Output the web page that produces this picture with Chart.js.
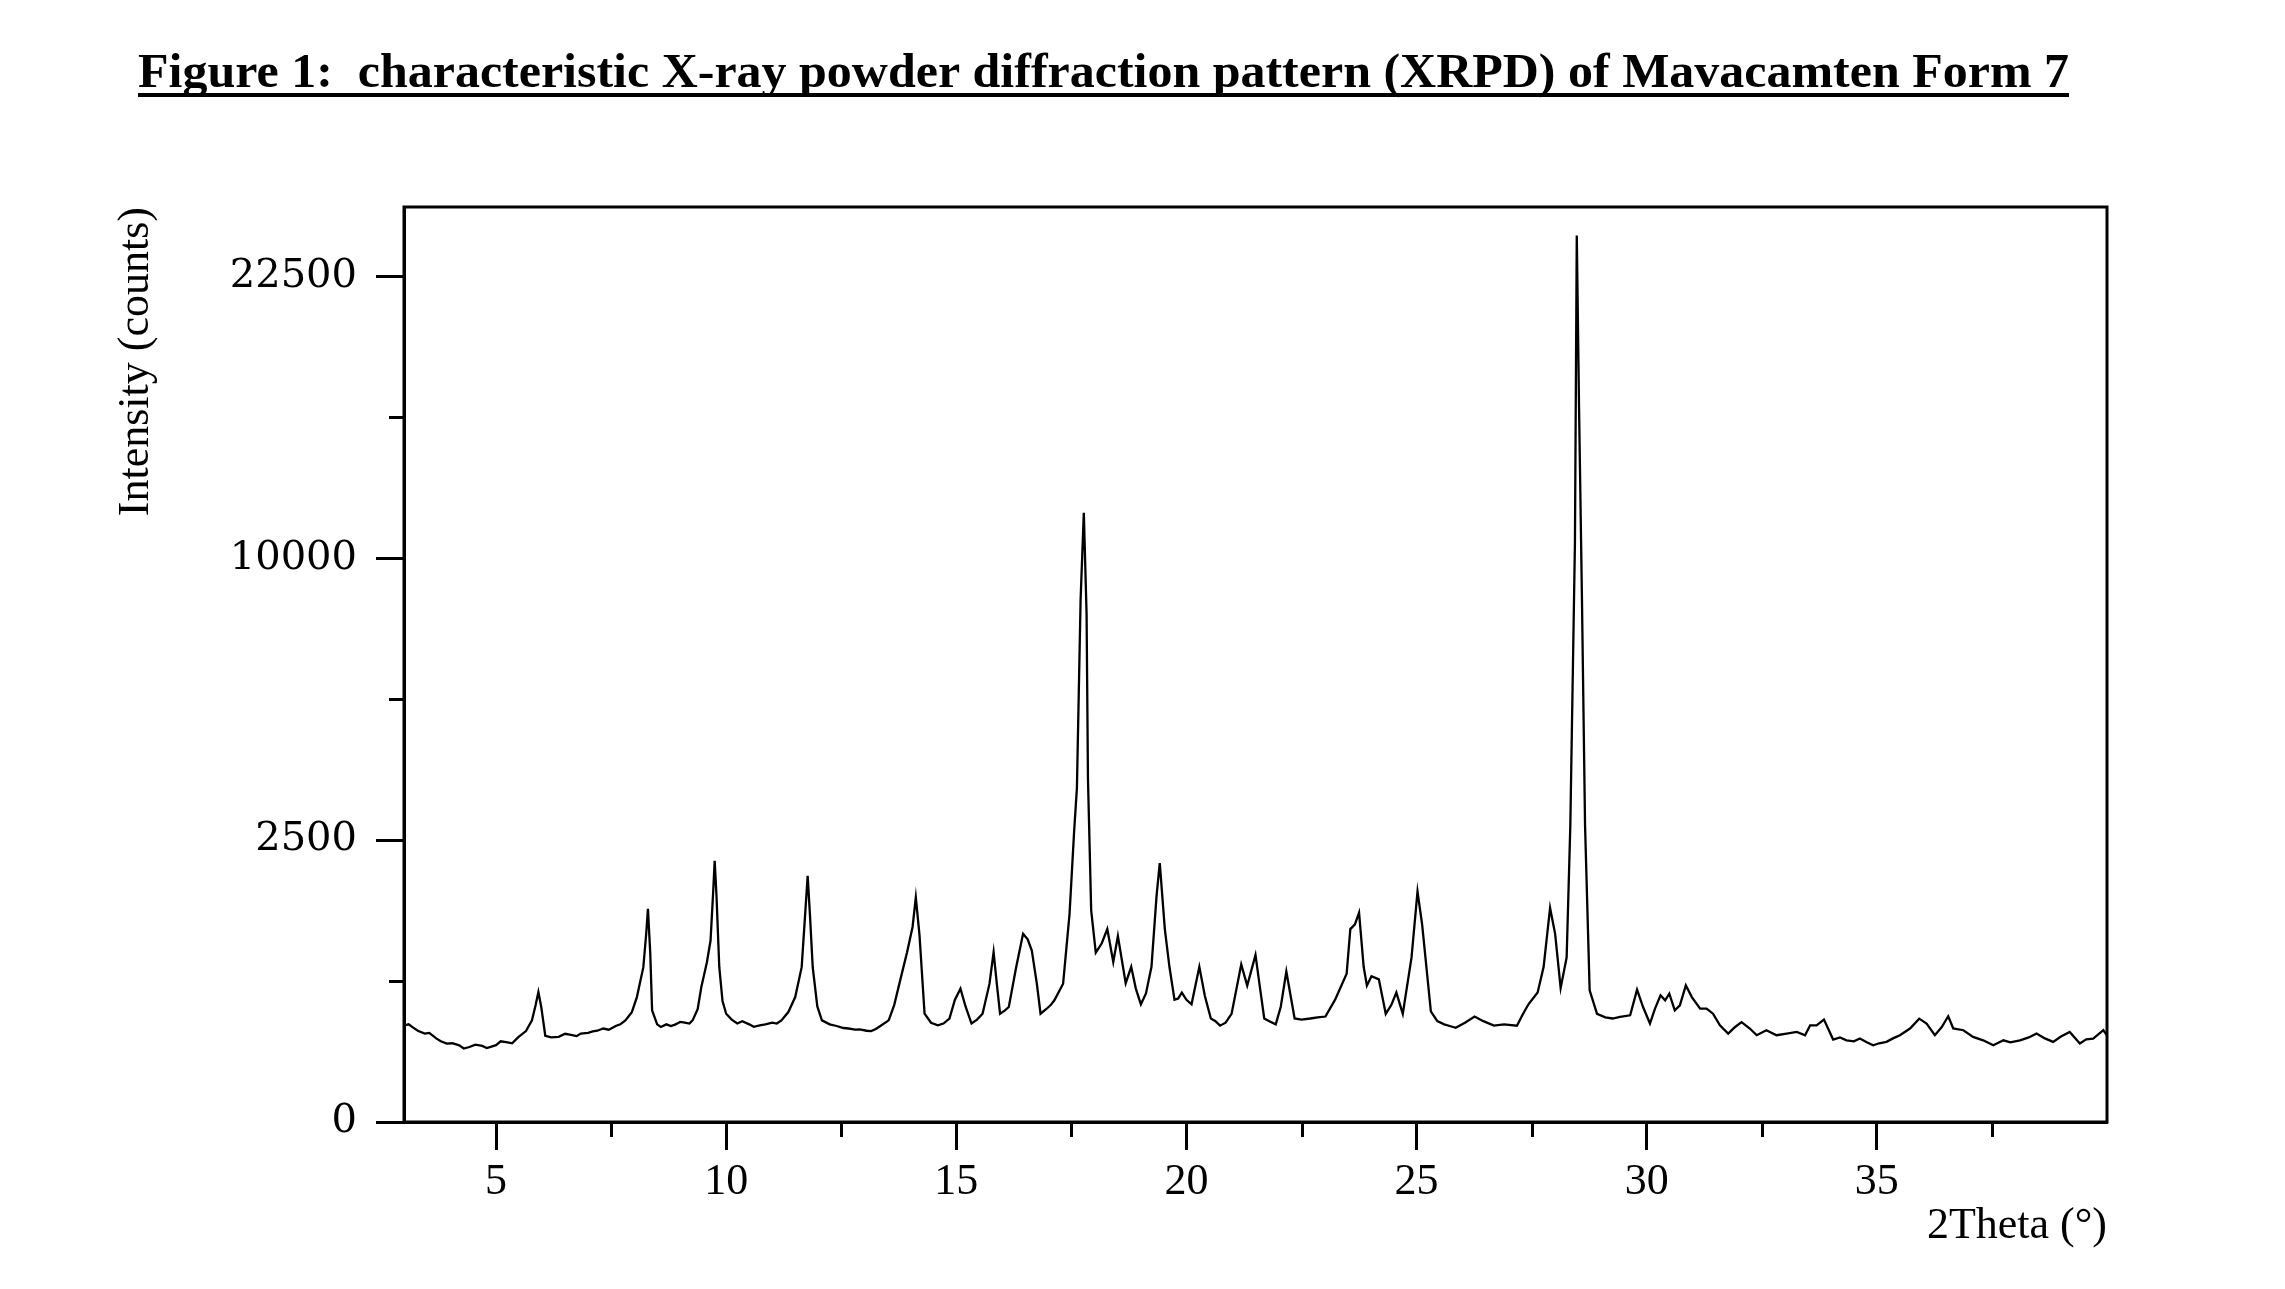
<!DOCTYPE html>
<html>
<head>
<meta charset="utf-8">
<script src="https://cdn.jsdelivr.net/npm/chart.js@4/dist/chart.umd.min.js"></script>
<style>
  html, body { margin: 0; padding: 0; background: #fff; }
  #wrap { width: 2285px; height: 1289px; }
</style>
</head>
<body>
<div id="wrap"><canvas id="chart" width="2285" height="1289"></canvas></div>
<script>
const chartTitle = 'Figure 1:  characteristic X-ray powder diffraction pattern (XRPD) of Mavacamten Form 7';

// 2Theta (deg) and intensity (counts)
const twoTheta = [
  3.01, 3.1, 3.2, 3.3, 3.45, 3.55, 3.7, 3.8, 3.93, 4.05, 4.2, 4.3, 4.42, 4.55, 4.7, 4.8, 5.0, 5.1, 5.25, 5.35,
  5.49, 5.65, 5.78, 5.86, 5.92, 5.98, 6.07, 6.2, 6.36, 6.5, 6.6, 6.75, 6.84, 7.0, 7.1, 7.2, 7.33, 7.45, 7.6, 7.7,
  7.81, 7.95, 8.06, 8.2, 8.26, 8.30, 8.35, 8.39, 8.5, 8.58, 8.7, 8.8, 8.9, 9.0, 9.1, 9.2, 9.27, 9.38, 9.46, 9.58,
  9.66, 9.72, 9.75, 9.79, 9.85, 9.92, 10.0, 10.12, 10.24, 10.35, 10.5, 10.6, 10.73, 10.85, 11.0, 11.1, 11.2, 11.35,
  11.5, 11.64, 11.72, 11.77, 11.82, 11.88, 11.98, 12.08, 12.25, 12.4, 12.55, 12.66, 12.8, 12.9, 13.05, 13.15, 13.25,
  13.35, 13.53, 13.65, 13.78, 13.93, 14.05, 14.12, 14.2, 14.31, 14.45, 14.6, 14.72, 14.85, 14.97, 15.09, 15.2,
  15.33, 15.45, 15.57, 15.72, 15.81, 15.88, 15.95, 16.05, 16.14, 16.3, 16.45, 16.55, 16.64, 16.75, 16.83, 16.95,
  17.05, 17.13, 17.32, 17.46, 17.56, 17.62, 17.70, 17.77, 17.83, 17.86, 17.93, 18.03, 18.16, 18.28, 18.41, 18.51,
  18.68, 18.80, 18.9, 19.01, 19.12, 19.24, 19.35, 19.42, 19.53, 19.63, 19.74, 19.82, 19.90, 20.0, 20.11, 20.28,
  20.4, 20.53, 20.63, 20.73, 20.85, 20.98, 21.19, 21.32, 21.50, 21.6, 21.69, 21.8, 21.94, 22.05, 22.17, 22.35,
  22.5, 22.69, 22.85, 23.02, 23.23, 23.48, 23.56, 23.66, 23.75, 23.85, 23.92, 24.02, 24.18, 24.33, 24.45, 24.56,
  24.70, 24.89, 25.02, 25.12, 25.31, 25.45, 25.60, 25.72, 25.85, 26.05, 26.26, 26.45, 26.68, 26.9, 27.18, 27.3,
  27.43, 27.63, 27.76, 27.90, 28.01, 28.13, 28.26, 28.34, 28.44, 28.48, 28.53, 28.59, 28.66, 28.76, 28.92, 29.1,
  29.26, 29.42, 29.64, 29.79, 29.92, 30.07, 30.18, 30.30, 30.40, 30.49, 30.61, 30.72, 30.85, 30.98, 31.16, 31.30,
  31.44, 31.59, 31.77, 31.92, 32.06, 32.24, 32.39, 32.60, 32.82, 33.04, 33.26, 33.44, 33.55, 33.69, 33.85, 33.94,
  34.05, 34.2, 34.34, 34.5, 34.63, 34.78, 34.92, 35.05, 35.21, 35.35, 35.50, 35.72, 35.92, 36.08, 36.26, 36.41,
  36.55, 36.66, 36.88, 37.09, 37.31, 37.53, 37.75, 37.9, 38.11, 38.3, 38.47, 38.65, 38.83, 39.0, 39.19, 39.41,
  39.55, 39.70, 39.92, 40.0
];
const counts = [
  294, 300, 280, 262, 246, 250, 220, 205, 193, 195, 185, 170, 177, 188, 182, 172, 186, 205, 200, 195,
  228, 260, 325, 430, 531, 420, 234, 225, 228, 245, 240, 232, 246, 250, 258, 262, 275, 268, 290, 300,
  325, 380, 491, 754, 1100, 1429, 900, 392, 300, 284, 300, 290, 300, 315, 310, 305, 325, 400, 573, 800,
  1036, 1700, 2147, 1600, 754, 460, 369, 330, 305, 320, 300, 285, 294, 300, 310, 305, 325, 380,
  491, 754, 1400, 1908, 1350, 754, 420, 325, 300, 290, 278, 275, 268, 270, 262, 260, 272,
  290, 325, 430, 631, 907, 1200, 1588, 1100, 369, 310, 294, 305, 336, 470, 559, 420,
  305, 330, 369, 600, 907, 600, 369, 390, 416, 754, 1114, 1050, 924, 600, 369, 400,
  430, 466, 601, 1363, 2667, 3510, 8580, 11680, 8120, 3710, 1410, 903, 1005, 1171, 806, 1088,
  606, 758, 560, 436, 520, 758, 1606, 2107, 1171, 758, 471, 480, 527, 470, 436, 758,
  500, 337, 320, 292, 310, 368, 780, 585, 878, 560, 337, 320, 300, 420, 713, 337,
  330, 337, 345, 350, 471, 691, 1171, 1229, 1379, 758, 585, 669, 640, 368, 430, 527,
  368, 852, 1671, 1229, 385, 320, 300, 290, 279, 310, 350, 320, 292, 300, 292, 360,
  436, 527, 758, 1442, 1114, 566, 852, 2766, 10540, 24720, 16000, 8890, 2766, 546, 368, 345,
  337, 347, 358, 551, 416, 305, 404, 505, 466, 518, 392, 428, 587, 491, 404, 404,
  369, 294, 246, 284, 314, 275, 237, 265, 237, 246, 255, 237, 294, 294, 330, 275,
  214, 225, 210, 205, 219, 200, 185, 195, 202, 220, 237, 275, 336, 305, 237, 284,
  352, 275, 265, 228, 210, 185, 210, 200, 210, 225, 246, 220, 202, 230, 255, 194,
  215, 219, 265, 237
];

const xTicks = [5, 10, 15, 20, 25, 30, 35];
const xMinorTicks = [7.5, 12.5, 17.5, 22.5, 27.5, 32.5, 37.5];
const yTicks = [0, 2500, 10000, 22500];
const yMinorTicks = [625, 5625, 15625];
const xRange = [3, 40];
const yMaxCounts = 26340;

// square-root intensity axis: plot sqrt(counts), label with counts
const sq = v => Math.sqrt(v);

const serif = '"Liberation Serif", "Times New Roman", serif';

const extras = {
  id: 'extras',
  afterDraw(c) {
    const ctx = c.ctx;
    const a = c.chartArea;
    const xs = c.scales.x, ys = c.scales.y;
    ctx.save();
    // frame
    ctx.strokeStyle = '#000';
    ctx.lineWidth = 3;
    ctx.strokeRect(a.left, a.top, a.right - a.left, a.bottom - a.top);
    // minor ticks
    ctx.beginPath();
    xMinorTicks.forEach(v => {
      const px = Math.round(xs.getPixelForValue(v)) + 0.5;
      ctx.moveTo(px, a.bottom);
      ctx.lineTo(px, a.bottom + 15);
    });
    yMinorTicks.forEach(v => {
      const py = Math.round(ys.getPixelForValue(sq(v))) + 0.5;
      ctx.moveTo(a.left, py);
      ctx.lineTo(a.left - 15, py);
    });
    ctx.stroke();
    // title, underlined
    ctx.fillStyle = '#000';
    ctx.font = 'bold 48px ' + serif;
    ctx.textBaseline = 'alphabetic';
    const w = ctx.measureText(chartTitle).width;
    const targetW = 1931;
    ctx.translate(138, 87);
    ctx.scale(targetW / w, 1);
    ctx.fillText(chartTitle, 0, 0);
    ctx.setTransform(1, 0, 0, 1, 0, 0);
    ctx.fillRect(138, 93, targetW, 4);
    ctx.restore();
  }
};

chart = new Chart(document.getElementById('chart'), {
  type: 'line',
  data: {
    datasets: [{
      data: twoTheta.map((t, i) => ({x: t, y: sq(counts[i])})),
      borderColor: '#000',
      borderWidth: 2.3,
      pointRadius: 0,
      tension: 0,
      fill: false
    }]
  },
  options: {
    responsive: false,
    animation: false,
    events: [],
    layout: { padding: { top: 207, right: 178, bottom: 0, left: 0 } },
    plugins: { legend: { display: false }, tooltip: { enabled: false } },
    scales: {
      x: {
        type: 'linear',
        min: xRange[0],
        max: xRange[1],
        afterBuildTicks: s => { s.ticks = xTicks.map(v => ({value: v})); },
        afterFit: s => { s.height = 167; },
        border: { display: true, color: '#000', width: 3 },
        grid: { drawOnChartArea: false, drawTicks: true, tickLength: 28, tickWidth: 3, tickColor: '#000' },
        ticks: { color: '#000', padding: 6, maxRotation: 0, font: { family: serif, size: 44 } },
        title: {
          display: true, text: '2Theta (°)', align: 'end', color: '#000',
          font: { family: serif, size: 44 }, padding: { top: 0, bottom: 36 }
        }
      },
      y: {
        type: 'linear',
        min: 0,
        max: sq(yMaxCounts),
        afterBuildTicks: s => { s.ticks = yTicks.map(v => ({value: sq(v)})); },
        afterFit: s => { s.width = 404; },
        border: { display: true, color: '#000', width: 3 },
        grid: { drawOnChartArea: false, drawTicks: true, tickLength: 28, tickWidth: 3, tickColor: '#000' },
        ticks: {
          color: '#000', padding: 19,
          font: { family: '"DejaVu Serif", serif', size: 40 },
          callback: v => String(Math.round(v * v))
        },
        title: {
          display: true, text: 'Intensity (counts)', align: 'end', color: '#000',
          font: { family: serif, size: 44 }, padding: { top: 110, bottom: 0 }
        }
      }
    }
  },
  plugins: [extras]
});
</script>
</body>
</html>
